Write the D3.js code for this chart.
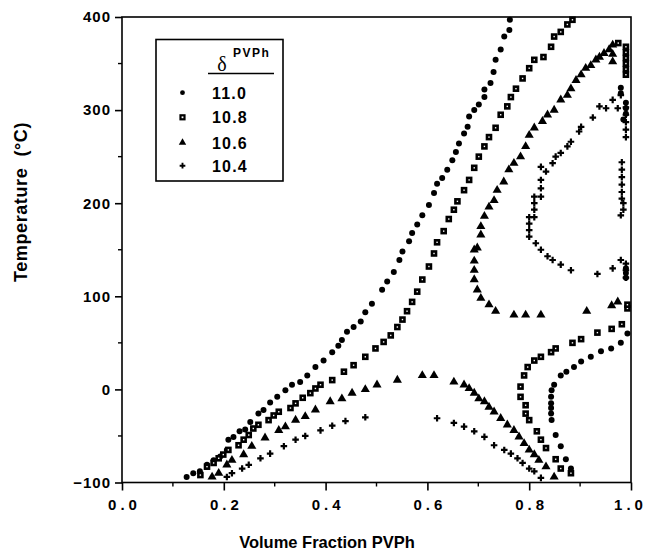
<!DOCTYPE html>
<html>
<head>
<meta charset="utf-8">
<script src="https://cdn.jsdelivr.net/npm/d3@7"></script>
<style>
  body { margin: 0; background: #fff; }
  svg text { font-family: "Liberation Sans", Arial, Helvetica, sans-serif; font-weight: bold; fill: #000; }
</style>
</head>
<body>
<div id="chart"></div>
<script>
var width = 649;
var height = 559;

// tick values
var xTicks = [0, 0.2, 0.4, 0.6, 0.8, 1.0];
var yTicks = [-100, 0, 100, 200, 300, 400];
var legendLabels = ["11.0", "10.8", "10.6", "10.4"];

// delta = 11.0 (circles)
var s110 = [[0.127,-94],[0.140,-90],[0.153,-88],[0.167,-81],[0.180,-76],[0.193,-72],[0.206,-65],[0.209,-54],[0.219,-51],[0.231,-45],[0.242,-43],[0.252,-35],[0.268,-26],[0.278,-22],[0.291,-14],[0.305,-8],[0.321,-1],[0.334,5],[0.350,8],[0.364,15],[0.380,24],[0.396,31],[0.413,40],[0.425,47],[0.432,53],[0.442,62],[0.455,67],[0.469,73],[0.478,83],[0.491,92],[0.511,107],[0.521,116],[0.534,126],[0.545,139],[0.551,148],[0.564,159],[0.570,168],[0.580,177],[0.590,187],[0.603,198],[0.613,211],[0.619,221],[0.629,227],[0.639,236],[0.649,246],[0.656,255],[0.662,264],[0.672,275],[0.679,282],[0.682,293],[0.692,300],[0.701,306],[0.712,314],[0.712,322],[0.724,329],[0.730,341],[0.734,354],[0.744,365],[0.751,379],[0.761,386],[0.762,397],
  [0.882,-85],[0.872,-75],[0.862,-61],[0.852,-49],[0.844,-33],[0.843,-26],[0.843,-20],[0.843,-15],[0.843,-8],[0.844,-1],[0.849,5],[0.862,15],[0.873,19],[0.888,24],[0.902,30],[0.921,35],[0.941,41],[0.961,44],[0.980,50],[0.993,60],
  [0.990,120],[0.990,125],[0.990,130],[0.985,290],[0.990,296],[0.990,302],[0.990,308],[0.980,318],[0.980,324]];

// delta = 10.8 (squares)
var s108 = [[0.154,-92],[0.167,-83],[0.180,-79],[0.190,-74],[0.199,-70],[0.209,-65],[0.229,-60],[0.239,-54],[0.249,-49],[0.258,-42],[0.268,-38],[0.288,-33],[0.298,-28],[0.308,-24],[0.331,-20],[0.341,-15],[0.355,-9],[0.370,-4],[0.380,1],[0.390,5],[0.413,10],[0.436,19],[0.455,26],[0.478,35],[0.498,44],[0.514,51],[0.528,58],[0.541,67],[0.551,75],[0.560,84],[0.570,94],[0.580,105],[0.590,118],[0.603,132],[0.613,146],[0.619,158],[0.632,170],[0.642,183],[0.652,193],[0.659,202],[0.672,214],[0.682,225],[0.692,238],[0.701,250],[0.712,261],[0.721,271],[0.734,281],[0.744,295],[0.757,304],[0.764,314],[0.774,323],[0.787,334],[0.800,345],[0.810,354],[0.828,357],[0.843,368],[0.849,379],[0.862,384],[0.875,392],[0.885,397],
  [0.882,-90],[0.862,-85],[0.852,-75],[0.833,-63],[0.823,-54],[0.815,-45],[0.800,-33],[0.793,-26],[0.793,-17],[0.783,-8],[0.783,3],[0.790,15],[0.797,24],[0.810,31],[0.823,35],[0.843,40],[0.852,44],[0.885,50],[0.902,54],[0.934,61],[0.962,65],[0.982,70],[0.993,87],[0.993,91],
  [0.975,372],[0.990,368],[0.990,362],[0.990,356],[0.990,350],[0.990,344],[0.990,338]];

// delta = 10.6 (triangles)
var s106 = [[0.177,-94],[0.190,-90],[0.206,-81],[0.216,-76],[0.239,-70],[0.255,-61],[0.281,-52],[0.308,-44],[0.321,-40],[0.341,-33],[0.360,-29],[0.380,-22],[0.409,-13],[0.432,-10],[0.452,-4],[0.478,0],[0.501,5],[0.541,10],[0.590,15],[0.613,15],[0.652,8],[0.672,5],[0.682,1],[0.692,-4],[0.701,-10],[0.712,-13],[0.721,-19],[0.731,-24],[0.744,-31],[0.757,-38],[0.770,-44],[0.780,-51],[0.790,-58],[0.800,-65],[0.810,-70],[0.819,-76],[0.833,-83],[0.849,-94],
  [0.974,94],[0.962,90],[0.913,84],[0.823,80],[0.793,80],[0.770,80],[0.734,84],[0.721,91],[0.705,98],[0.698,107],[0.692,118],[0.692,128],[0.692,138],[0.692,150],[0.698,152],[0.705,166],[0.705,175],[0.712,186],[0.721,196],[0.731,203],[0.737,214],[0.750,223],[0.760,236],[0.770,243],[0.783,250],[0.793,261],[0.800,273],[0.810,281],[0.826,288],[0.836,295],[0.849,300],[0.862,311],[0.875,316],[0.882,323],[0.892,332],[0.902,338],[0.911,345],[0.921,348],[0.931,354],[0.938,357],[0.947,361],[0.957,365],[0.964,370],[0.964,360],[0.964,352]];

// delta = 10.4 (crosses)
var s104 = [[0.206,-94],[0.216,-90],[0.236,-85],[0.249,-81],[0.272,-74],[0.291,-69],[0.318,-61],[0.341,-54],[0.360,-50],[0.390,-44],[0.413,-39],[0.439,-34],[0.478,-30],[0.619,-31],[0.652,-36],[0.672,-40],[0.692,-45],[0.712,-51],[0.731,-60],[0.751,-65],[0.764,-69],[0.777,-74],[0.787,-79],[0.800,-85],[0.810,-88],[0.823,-95],
  [0.990,303],[0.990,295],[0.990,287],[0.990,279],[0.990,271],[0.980,316],[0.974,302],[0.964,311],[0.951,302],[0.938,304],[0.925,292],[0.902,282],[0.898,277],[0.882,266],[0.875,261],[0.862,254],[0.852,250],[0.846,243],[0.833,234],[0.823,239],[0.823,225],[0.823,216],[0.823,207],[0.810,207],[0.810,200],[0.810,193],[0.810,185],[0.800,185],[0.800,178],[0.800,171],[0.800,164],[0.813,157],[0.823,150],[0.836,143],[0.846,139],[0.862,134],[0.882,128],[0.934,124],[0.964,130],[0.980,139],[0.990,135],[0.990,128],[0.990,120],
  [0.980,187],[0.985,193],[0.985,200],[0.982,205],[0.982,212],[0.982,220],[0.982,228],[0.982,236],[0.982,244]];

var svg = d3.select("#chart")
  .append("svg")
    .attr("width", width)
    .attr("height", height);

var x = d3.scaleLinear().domain([0, 1]).range([122, 631]);
var y = d3.scaleLinear().domain([-100, 400]).range([482.5, 17]);

// frame
svg.append("rect")
  .attr("x", x(0)).attr("y", y(400))
  .attr("width", x(1) - x(0)).attr("height", y(-100) - y(400))
  .attr("fill", "none").attr("stroke", "#000").attr("stroke-width", 1.6);

// axes
var xAxis = svg.append("g")
  .attr("transform", "translate(0," + y(-100) + ")")
  .call(d3.axisBottom(x).tickValues(xTicks).tickSize(8).tickPadding(9).tickFormat(d3.format(".1f")));
var yAxis = svg.append("g")
  .attr("transform", "translate(" + x(0) + ",0)")
  .call(d3.axisLeft(y).tickValues(yTicks).tickSize(7).tickPadding(4).tickFormat(d3.format("d")));

[xAxis, yAxis].forEach(function(a) {
  a.select(".domain").remove();
  a.selectAll("line").attr("stroke", "#000").attr("stroke-width", 1.6);
  a.selectAll("text").attr("font-family", null).style("font-size", "15px");
});
xAxis.selectAll("text").style("letter-spacing", "4px")
  .attr("dx", function(d){ return d === 1 ? "-1px" : "2px"; });
yAxis.selectAll("text").style("letter-spacing", "1px");

// minor ticks
svg.append("g").selectAll("line")
  .data(d3.range(0.1, 1, 0.2))
  .enter().append("line")
    .attr("x1", function(d){ return x(d); }).attr("x2", function(d){ return x(d); })
    .attr("y1", y(-100)).attr("y2", y(-100) + 4)
    .attr("stroke", "#000").attr("stroke-width", 1.4);
svg.append("g").selectAll("line")
  .data(d3.range(-50, 400, 100))
  .enter().append("line")
    .attr("x1", x(0) - 4).attr("x2", x(0))
    .attr("y1", function(d){ return y(d); }).attr("y2", function(d){ return y(d); })
    .attr("stroke", "#000").attr("stroke-width", 1.4);

// titles
svg.append("text")
  .attr("x", 327).attr("y", 548)
  .attr("text-anchor", "middle")
  .style("font-size", "16.5px")
  .text("Volume Fraction PVPh");
svg.append("text")
  .attr("transform", "translate(27,202) rotate(-90)")
  .attr("text-anchor", "middle")
  .style("font-size", "18px")
  .style("letter-spacing", "0.6px")
  .style("white-space", "pre")
  .text("Temperature  (\u00B0C)");

// markers
function drawSeries(data, kind) {
  var g = svg.append("g");
  var sel = g.selectAll(".m").data(data).enter();
  if (kind === "circle") {
    sel.append("circle")
      .attr("cx", function(d){ return x(d[0]); })
      .attr("cy", function(d){ return y(d[1]); })
      .attr("r", 3).attr("fill", "#000");
  } else if (kind === "square") {
    sel.append("rect")
      .attr("x", function(d){ return x(d[0]) - 2; })
      .attr("y", function(d){ return y(d[1]) - 2; })
      .attr("width", 4).attr("height", 4)
      .attr("fill", "#fff").attr("stroke", "#000").attr("stroke-width", 2.6);
  } else {
    var sym = kind === "triangle" ? d3.symbol().type(d3.symbolTriangle).size(36)
                                  : d3.symbol().type(d3.symbolCross).size(24);
    sel.append("path")
      .attr("d", sym)
      .attr("transform", function(d){ return "translate(" + x(d[0]) + "," + y(d[1]) + ")"; })
      .attr("fill", "#000");
  }
}
drawSeries(s110, "circle");
drawSeries(s108, "square");
drawSeries(s106, "triangle");
drawSeries(s104, "cross");

// legend
var legend = svg.append("g");
legend.append("rect")
  .attr("x", 156).attr("y", 39.5).attr("width", 127).attr("height", 141.5)
  .attr("fill", "#fff").attr("stroke", "#000").attr("stroke-width", 1.6);
legend.append("text")
  .attr("x", 222).attr("y", 71).attr("text-anchor", "middle")
  .style("font-family", "'Liberation Serif', 'DejaVu Serif', serif")
  .style("font-weight", "normal")
  .style("font-size", "20px")
  .text("\u03B4");
legend.append("text")
  .attr("x", 233).attr("y", 57)
  .style("font-size", "12px").style("letter-spacing", "1.5px")
  .text("PVPh");
legend.append("line")
  .attr("x1", 208).attr("x2", 274).attr("y1", 73.5).attr("y2", 73.5)
  .attr("stroke", "#000").attr("stroke-width", 1.6);

var kinds = ["circle", "square", "triangle", "cross"];
var rowY = [92.7, 117.3, 142.5, 165.7];
legendLabels.forEach(function(lab, i) {
  var cy = rowY[i];
  if (kinds[i] === "circle") {
    legend.append("circle").attr("cx", 182.5).attr("cy", cy).attr("r", 2.4).attr("fill", "#000");
  } else if (kinds[i] === "square") {
    legend.append("rect").attr("x", 180.5).attr("y", cy - 2).attr("width", 4).attr("height", 4)
      .attr("fill", "#fff").attr("stroke", "#000").attr("stroke-width", 2.2);
  } else {
    var sym = kinds[i] === "triangle" ? d3.symbol().type(d3.symbolTriangle).size(24)
                                      : d3.symbol().type(d3.symbolCross).size(18);
    legend.append("path").attr("d", sym).attr("transform", "translate(182.5," + cy + ")").attr("fill", "#000");
  }
  legend.append("text")
    .attr("x", 212).attr("y", cy + 6)
    .style("font-size", "16px").style("letter-spacing", "1.2px")
    .text(lab);
});
</script>
</body>
</html>
